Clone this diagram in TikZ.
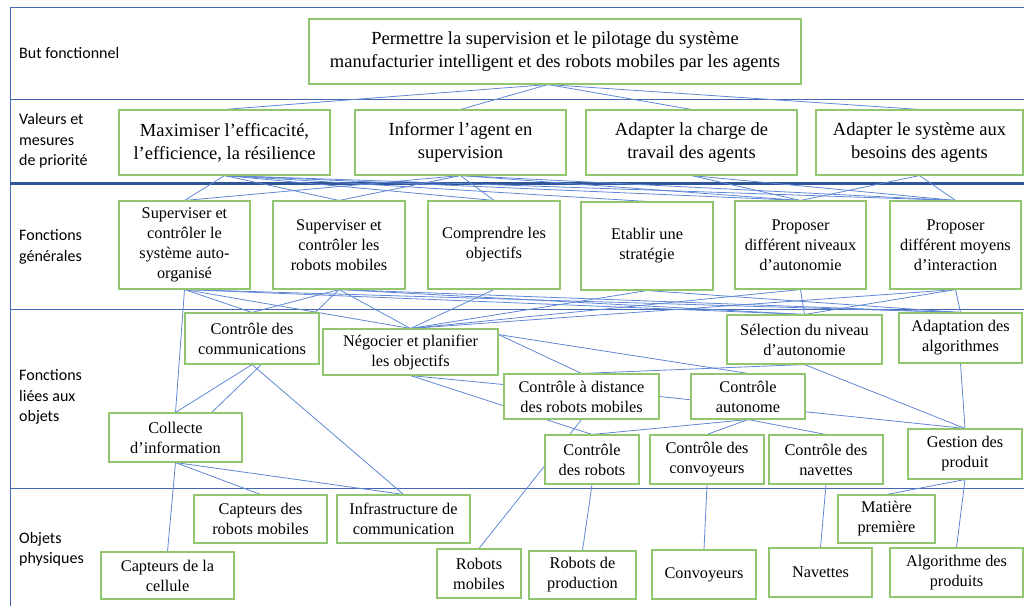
\documentclass[tikz,border=0pt]{standalone}
\usepackage{fontspec}
\setmainfont{Liberation Serif}
\newfontfamily\labfont{Carlito}
\usetikzlibrary{calc,backgrounds}
\definecolor{sepc}{RGB}{68,104,176}
\definecolor{sepd}{RGB}{47,85,151}
\definecolor{edgec}{RGB}{95,135,212}
\definecolor{boxg}{RGB}{146,198,110}
\begin{document}
\begin{tikzpicture}[x=1pt,y=-1pt,
  box/.style={draw=boxg, line width=1.1pt, fill=white, align=center, inner sep=0pt, font=\fontsize{16.3}{20}\selectfont},
  bigbox/.style={box, font=\fontsize{18.5}{23}\selectfont},
  lab/.style={anchor=west, align=left, inner sep=0pt, font=\labfont\fontsize{16}{20.5}\selectfont},
  sep/.style={draw=sepc, line width=1pt},
  septhick/.style={draw=sepd, line width=2.4pt},
  edge/.style={draw=edgec, line width=0.8pt}]
\useasboundingbox (0,0) rectangle (1024,606);
% labels
\node[lab] (l1) at (19,53) {But fonctionnel};
\node[lab] (l2) at (19,141) {Valeurs et\\mesures\\de priorité};
\node[lab] (l3) at (19,247) {Fonctions\\générales};
\node[lab] (l4) at (19,397) {Fonctions\\liées aux\\objets};
\node[lab] (l5) at (19,549) {Objets\\physiques};
% row 1
\node[bigbox, minimum width=492pt, minimum height=65pt] (top) at (555,51.5) {Permettre la supervision et le pilotage du système\\manufacturier intelligent et des robots mobiles par les agents};
% row 2
\node[bigbox, minimum width=211pt, minimum height=65pt] (maxi) at (224.5,142.5) {Maximiser l’efficacité,\\l’efficience, la résilience};
\node[bigbox, minimum width=211pt, minimum height=65pt] (info) at (460.5,142.5) {Informer l’agent en\\supervision};
\node[bigbox, minimum width=211pt, minimum height=65pt] (charge) at (691.5,142.5) {Adapter la charge de\\travail des agents};
\node[bigbox, minimum width=207pt, minimum height=65pt] (syst) at (919.5,142.5) {Adapter le système aux\\besoins des agents};
% row 3
\node[box, minimum width=131pt, minimum height=88pt] (supsys) at (184.5,245) {Superviser et\\contrôler le\\système auto-\\organisé};
\node[box, minimum width=132pt, minimum height=88pt] (suprob) at (339,245) {Superviser et\\contrôler les\\robots mobiles};
\node[box, minimum width=132pt, minimum height=88pt] (compr) at (494,245) {Comprendre les\\objectifs};
\node[box, minimum width=132pt, minimum height=88pt] (etab) at (647,246) {Etablir une\\stratégie};
\node[box, minimum width=131pt, minimum height=88pt] (propniv) at (800.5,245) {Proposer\\différent niveaux\\d’autonomie};
\node[box, minimum width=131pt, minimum height=88pt] (propmoy) at (955.5,245) {Proposer\\différent moyens\\d’interaction};
% row 4
\node[box, minimum width=134pt, minimum height=51pt] (ccomm) at (252,338.5) {Contrôle des\\communications};
\node[box, minimum width=175pt, minimum height=46pt] (nego) at (410.5,352) {Négocier et planifier\\les objectifs};
\node[box, minimum width=133pt, minimum height=49pt] (collecte) at (175.5,437.5) {Collecte\\d’information};
\node[box, minimum width=155pt, minimum height=49pt] (selection) at (804.5,339.5) {Sélection du niveau\\d’autonomie};
\node[box, minimum width=123pt, minimum height=50pt] (adapt) at (960.5,338) {Adaptation des\\algorithmes};
\node[box, minimum width=155pt, minimum height=45pt] (cdist) at (581.5,396.5) {Contrôle à distance\\des robots mobiles};
\node[box, minimum width=114pt, minimum height=45pt] (cauto) at (748,396.5) {Contrôle\\autonome};
\node[box, minimum width=94pt, minimum height=49pt] (crob) at (592,459.5) {Contrôle\\des robots};
\node[box, minimum width=114pt, minimum height=49pt] (cconv) at (707,459.5) {Contrôle des\\convoyeurs};
\node[box, minimum width=114pt, minimum height=49pt] (cnav) at (826,459.5) {Contrôle des\\navettes};
\node[box, minimum width=114pt, minimum height=50pt] (gestion) at (965,454) {Gestion des\\produit};
% row 5
\node[box, minimum width=133pt, minimum height=48pt] (caprob) at (260.5,519) {Capteurs des\\robots mobiles};
\node[box, minimum width=133pt, minimum height=48pt] (infra) at (403.5,519) {Infrastructure de\\communication};
\node[box, minimum width=133pt, minimum height=47pt] (capcell) at (167.5,575.5) {Capteurs de la\\cellule};
\node[box, minimum width=84pt, minimum height=49pt] (robmob) at (479,573.5) {Robots\\mobiles};
\node[box, minimum width=107pt, minimum height=48pt] (robprod) at (582.5,575) {Robots de\\production};
\node[box, minimum width=104pt, minimum height=49pt] (convoy) at (704,574.5) {Convoyeurs};
\node[box, minimum width=103pt, minimum height=49pt] (navettes) at (820.5,572.5) {Navettes};
\node[box, minimum width=97pt, minimum height=48pt] (matiere) at (886.5,519) {Matière\\première};
\node[box, minimum width=133pt, minimum height=49pt] (algo) at (956.5,572.5) {Algorithme des\\produits};
\coordinate (tops) at ($(top.south)+(-7,0)$);
\coordinate (colr) at ($(collecte.north west)!0.77!(collecte.north east)$);
\coordinate (cdw) at ($(cdist.north west)!0.24!(cdist.south west)$);
\coordinate (nege) at ($(nego.north east)!0.13!(nego.south east)$);
\begin{scope}[on background layer]
% separators
\draw[sep] (1024,7) -- (10,7) -- (10,606);
\draw[sep] (10,99) -- (1024,99);
\draw[septhick] (10,183.5) -- (1024,183.5);
\draw[sep] (10,309) -- (1024,309);
\draw[sep] (10,488) -- (1024,488);
% row1 -> row2
\foreach \t in {maxi,info,charge,syst} \draw[edge] (tops) -- (\t.north);
% row2 -> row3
\foreach \t in {supsys,suprob,compr,etab,propniv,propmoy} \draw[edge] (maxi.south) -- (\t.north);
\foreach \t in {supsys,suprob,compr,propniv,propmoy} \draw[edge] (info.south) -- (\t.north);
\foreach \t in {propniv,propmoy} \draw[edge] (charge.south) -- (\t.north);
\foreach \t in {propniv,propmoy} \draw[edge] (syst.south) -- (\t.north);
% row3 -> row4
\foreach \t in {ccomm,nego,collecte,selection,adapt} \draw[edge] (supsys.south) -- (\t.north);
\foreach \t in {ccomm,nego,selection,adapt} \draw[edge] (suprob.south) -- (\t.north);
\draw[edge] (suprob.south) -- (colr);
\draw[edge] (compr.south) -- (nego.north);
\foreach \t in {nego,adapt} \draw[edge] (etab.south) -- (\t.north);
\foreach \t in {selection,nego} \draw[edge] (propniv.south) -- (\t.north);
\foreach \t in {selection,adapt,nego} \draw[edge] (propmoy.south) -- (\t.north);
% within row 4
\draw[edge] (ccomm.south) -- (collecte.north);
\draw[edge] (ccomm.south) -- (infra.north);
\draw[edge] (nego.south) -- (cdw);
\draw[edge] (nego.south) -- (crob.north);
\draw[edge] (nege) -- (cdist.north);
\draw[edge] (nege) -- (cauto.north);
\draw[edge] (cdist.north) -- (selection.south);
\draw[edge] (cdist.east) -- (gestion.north);
\foreach \t in {crob,cconv,cnav} \draw[edge] (cauto.south) -- (\t.north);
\foreach \t in {selection,adapt} \draw[edge] (\t.south) -- (gestion.north);
% row 4 -> row 5
\foreach \t in {caprob,infra,capcell} \draw[edge] (collecte.south) -- (\t.north);
\draw[edge] (cdist.south) -- (robmob.north);
\draw[edge] (crob.south) -- (robprod.north);
\draw[edge] (cconv.south) -- (convoy.north);
\draw[edge] (cnav.south) -- (navettes.north);
\foreach \t in {matiere,algo} \draw[edge] (gestion.south) -- (\t.north);
\end{scope}
\end{tikzpicture}
\end{document}
